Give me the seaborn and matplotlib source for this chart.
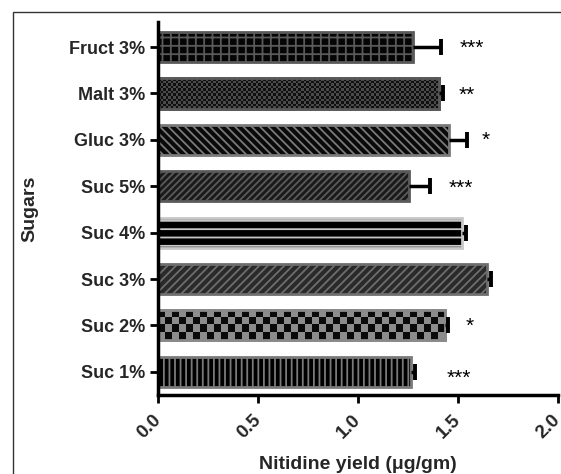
import numpy as np
import pandas as pd
import matplotlib
matplotlib.use("Agg")
import matplotlib.pyplot as plt
import matplotlib.patches as mpatches
import seaborn as sns

# Nitidine yield for each sugar treatment (mean and error)
sugars = ["Fruct 3%", "Malt 3%", "Gluc 3%", "Suc 5%", "Suc 4%", "Suc 3%", "Suc 2%", "Suc 1%"]
yield_mean = [1.275, 1.405, 1.455, 1.255, 1.52, 1.645, 1.435, 1.265]
yield_err = [0.14, 0.02, 0.09, 0.105, 0.02, 0.02, 0.015, 0.02]
significance = ["***", "**", "*", "***", "", "", "*", "***"]
x_ticks = [0.0, 0.5, 1.0, 1.5, 2.0]

df = pd.DataFrame({"Sugars": sugars, "Yield": yield_mean, "Err": yield_err, "Sig": significance})

# star label placement (x in data units, small vertical shift in category units)
star_x = [1.57, 1.545, 1.64, 1.515, None, None, 1.56, 1.505]
star_dy = [0.02, 0.05, 0.02, 0.05, 0.0, 0.0, 0.02, 0.14]

# per-bar fill styles: (facecolor, edgecolor, hatch, checker)
styles = {
    "Fruct 3%": ("#050505", "#5a5a5a", "++", None),
    "Malt 3%": ("#222222", "#5a5a5a", None, ("#101010", "#4a4a4a", 2.5)),
    "Gluc 3%": ("#0a0a0a", "#7a7a7a", "\\\\\\\\", None),
    "Suc 5%": ("#1a1a1a", "#5a5a5a", "/////", None),
    "Suc 4%": ("#000000", "#c8c8c8", "--", None),
    "Suc 3%": ("#2a2a2a", "#6e6e6e", "////", None),
    "Suc 2%": ("#888888", "#8a8a8a", None, ("#0a0a0a", "#8c8c8c", 7.0)),
    "Suc 1%": ("#000000", "#7a7a7a", "|||", None),
}

sns.set_style("ticks")
plt.rcParams["font.family"] = ["Liberation Sans", "DejaVu Sans"]
plt.rcParams["hatch.linewidth"] = 1.3

fig = plt.figure(figsize=(5.61, 4.74), dpi=100)
ax = fig.add_axes([158 / 561, 1 - 395 / 474, 400 / 561, (395 - 22) / 474])

sns.barplot(data=df, x="Yield", y="Sugars", orient="h", order=sugars,
            width=0.65, color="black", errorbar=None, ax=ax, zorder=2)

px_per_unit = 400 / 2.0
for patch, name in zip(ax.patches, sugars):
    fc, ec, hatch, checker = styles[name]
    patch.set_facecolor(fc)
    patch.set_edgecolor(ec)
    patch.set_linewidth(2.0)
    if hatch:
        patch.set_hatch(hatch)
    if checker:
        c1, c2, sq = checker
        x0, y0 = patch.get_xy()
        w, h = patch.get_width(), patch.get_height()
        wpx = w * px_per_unit
        hpx = h * 46.4
        ncol = max(1, int(round(wpx / sq)))
        nrow = max(1, int(round(hpx / sq)))
        grid = (np.add.outer(np.arange(nrow), np.arange(ncol)) % 2).astype(float)
        cmap = matplotlib.colors.ListedColormap([c1, c2])
        im = ax.imshow(grid, extent=(x0, x0 + w, y0 + h, y0), aspect="auto",
                       cmap=cmap, interpolation="nearest", zorder=2.1)
        im.set_clip_path(patch)
        ax.add_patch(mpatches.Rectangle((x0, y0), w, h, fill=False,
                                        edgecolor=ec, linewidth=2.0, zorder=2.2))

# one-sided error bars: line from the bar end, cap only at the outer end
ypos = np.arange(len(sugars))
ax.errorbar(df["Yield"], ypos, xerr=[np.zeros(len(sugars)), df["Err"]],
            fmt="none", ecolor="black", elinewidth=2.5, capsize=0, zorder=3)
ax.plot(df["Yield"] + df["Err"], ypos, linestyle="none", marker="|",
        markersize=11, markeredgewidth=2.8, color="black", zorder=3)

# significance stars
for i, (s, sx, dy) in enumerate(zip(significance, star_x, star_dy)):
    if s:
        ax.text(sx, i + dy, s, ha="center", va="center", fontsize=15, color="black")

ax.set_xlim(0, 2.0)
ax.set_ylim(7.5, -0.54)
ax.set_xticks(x_ticks)
ax.set_xticklabels([f"{t:.1f}" for t in x_ticks], rotation=45, ha="right",
                   va="center", rotation_mode="anchor", fontsize=13.5, fontweight="bold")
for lbl in ax.get_yticklabels():
    lbl.set_fontsize(13)
    lbl.set_fontweight("bold")

ax.set_xlabel("Nitidine yield (\u03bcg/gm)", fontsize=14, fontweight="bold", labelpad=10)
ax.set_ylabel("Sugars", fontsize=14, fontweight="bold", labelpad=22)

sns.despine(ax=ax)
for side in ("left", "bottom"):
    ax.spines[side].set_linewidth(2.5)
    ax.spines[side].set_color("black")
ax.tick_params(axis="both", length=6, width=2, color="black", pad=3)
ax.tick_params(axis="x", pad=10)

# thin outer frame
fig.add_artist(mpatches.Rectangle((13 / 561, -1.0), 2.0, 1.0 + (1 - 12 / 474),
                                  transform=fig.transFigure, fill=False,
                                  edgecolor="#333333", linewidth=1.0, clip_on=False))

fig.savefig("out.png", dpi=100)
